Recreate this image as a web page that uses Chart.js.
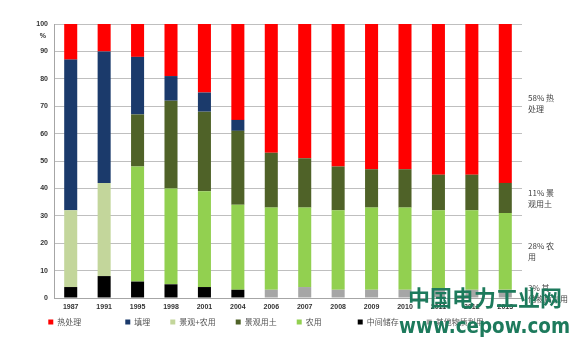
<!DOCTYPE html>
<html><head><meta charset="utf-8">
<script src="https://cdn.jsdelivr.net/npm/chart.js@4.4.1/dist/chart.umd.min.js"></script>
<style>html,body{margin:0;padding:0;background:#fff;}canvas{display:block;}</style>
</head><body>
<canvas id="c" width="585" height="356"></canvas>
<script>
const years = ['1987','1991','1995','1998','2001','2004','2006','2007','2008','2009','2010','2011','2012','2013'];
const storage       = [4, 8, 6, 5, 4, 3, 0, 0, 0, 0, 0, 0, 0, 0];       // 中间储存
const otherUse      = [0, 0, 0, 0, 0, 0, 3, 4, 3, 3, 3, 3, 3, 3];       // 其他物质利用
const landscapeAgri = [28, 34, 0, 0, 0, 0, 0, 0, 0, 0, 0, 0, 0, 0];     // 景观+农用
const agri          = [0, 0, 42, 35, 35, 31, 30, 29, 29, 30, 30, 29, 29, 28]; // 农用
const landscapeSoil = [0, 0, 19, 32, 29, 27, 20, 18, 16, 14, 14, 13, 13, 11]; // 景观用土
const landfill      = [55, 48, 21, 9, 7, 4, 0, 0, 0, 0, 0, 0, 0, 0];     // 填埋
const thermal       = [13, 10, 12, 19, 25, 35, 47, 49, 52, 53, 53, 55, 55, 58]; // 热处理
const yTicks = [0,10,20,30,40,50,60,70,80,90,100];
const legendOrder = ['热处理','填埋','景观+农用','景观用土','农用','中间储存','其他物质利用'];
const sideNotes = [
  {name:'热处理', data: thermal},
  {name:'景观用土', data: landscapeSoil},
  {name:'农用', data: agri},
  {name:'其他物质利用', data: otherUse}
];

const CJK = '"Noto Sans CJK SC", "Noto Sans", sans-serif';
const LAT = '"Liberation Sans", Arial, sans-serif';
// trailing gap (in ideographic spaces) after each legend entry, to mimic the original spacing
const legendGap = {'热处理':5,'填埋':2,'景观+农用':2,'景观用土':2,'农用':4,'中间储存':3,'其他物质利用':2};
const legendShift = 13;

const extras = {
  id: 'extras',
  afterLayout(chart) {
    if (chart.legend) { chart.legend.left += legendShift; chart.legend.right += legendShift; }
  },
  afterDraw(chart) {
    const ctx = chart.ctx, y = chart.scales.y, area = chart.chartArea;
    ctx.save();
    ctx.font = 'bold 7px ' + LAT;
    ctx.fillStyle = '#333';
    ctx.textAlign = 'right';
    ctx.textBaseline = 'middle';
    ctx.fillText('%', area.left - 8, y.getPixelForValue(95.5));
    const last = years.length - 1;
    const stackOrder = [storage, otherUse, landscapeAgri, agri, landscapeSoil, landfill, thermal];
    ctx.font = '8px ' + CJK;
    ctx.fillStyle = '#444';
    ctx.textAlign = 'left';
    sideNotes.forEach(n => {
      let base = 0;
      for (const s of stackOrder) { if (s === n.data) break; base += s[last]; }
      const v = n.data[last];
      const mid = y.getPixelForValue(base + v / 2);
      ctx.fillText(v + '% ' + n.name.charAt(0), area.right + 6, mid - 5.5);
      ctx.fillText(n.name.slice(1), area.right + 6, mid + 5.5);
    });
    // watermark of the source image
    ctx.fillStyle = '#1d7a5c';
    ctx.textBaseline = 'middle';
    ctx.font = 'bold 22px ' + CJK;
    ctx.fillText('中国电力工业网', 408, 298, 157);
    ctx.font = 'bold 22px "DejaVu Sans", sans-serif';
    ctx.fillText('www.cepow.com', 399, 327, 171);
    ctx.restore();
  }
};

new Chart(document.getElementById('c'), {
  type: 'bar',
  data: {
    labels: years,
    datasets: [
      {label:'中间储存', data: storage, backgroundColor:'#000000'},
      {label:'其他物质利用', data: otherUse, backgroundColor:'#a6a6a6'},
      {label:'景观+农用', data: landscapeAgri, backgroundColor:'#c3d69b'},
      {label:'农用', data: agri, backgroundColor:'#92d050'},
      {label:'景观用土', data: landscapeSoil, backgroundColor:'#4f6228'},
      {label:'填埋', data: landfill, backgroundColor:'#1b3a6b'},
      {label:'热处理', data: thermal, backgroundColor:'#ff0000'}
    ]
  },
  options: {
    responsive: false,
    animation: false,
    devicePixelRatio: 1,
    layout: {padding: {left: 0, right: 63, top: 24, bottom: 20}},
    datasets: {bar: {barPercentage: 0.39, categoryPercentage: 1.0, borderWidth: 0}},
    scales: {
      x: {
        stacked: true,
        grid: {display: false, drawTicks: false},
        border: {display: true, color: '#a6a6a6', width: 1},
        ticks: {font: {family: LAT, size: 7, weight: 'bold'}, color: '#333', padding: 5, maxRotation: 0, autoSkip: false},
        afterFit(s) { s.height = 16; }
      },
      y: {
        stacked: true,
        min: 0, max: 100,
        afterBuildTicks(s) { s.ticks = yTicks.map(v => ({value: v})); },
        grid: {color: '#bfbfbf', lineWidth: 1, drawTicks: false},
        border: {display: true, color: '#a6a6a6', width: 1},
        ticks: {font: {family: LAT, size: 7, weight: 'bold'}, color: '#333', padding: 6},
        afterFit(s) { s.width = 54; }
      }
    },
    plugins: {
      legend: {
        position: 'bottom',
        labels: {
          boxWidth: 5, boxHeight: 5, padding: 4,
          font: {family: CJK, size: 8}, color: '#555',
          generateLabels(chart) {
            const items = Chart.defaults.plugins.legend.labels.generateLabels(chart);
            items.sort((a, b) => legendOrder.indexOf(a.text) - legendOrder.indexOf(b.text));
            items.forEach(it => { it.text = it.text + '\u3000'.repeat(legendGap[it.text] || 0); });
            return items;
          }
        }
      },
      tooltip: {enabled: false}
    }
  },
  plugins: [extras]
});
</script>
</body></html>
